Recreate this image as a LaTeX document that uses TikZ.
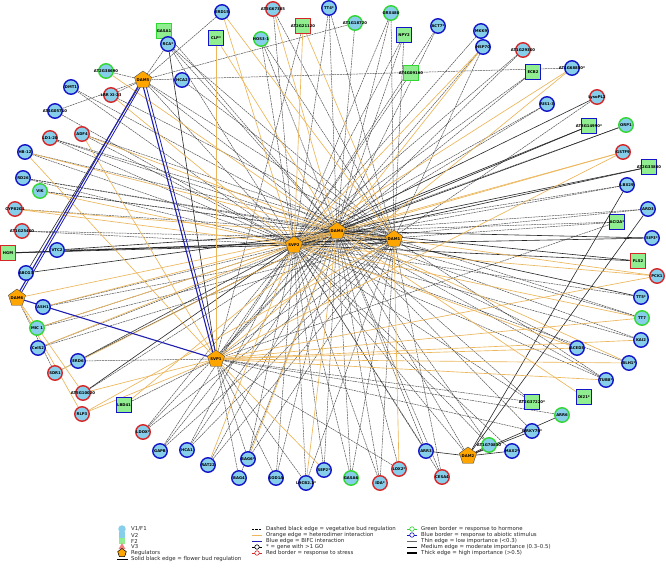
\documentclass[tikz,border=0pt]{standalone}
\usepackage{fontspec}
\setmainfont{DejaVu Sans}
\usetikzlibrary{shapes.geometric}
\pgfdeclarelayer{background}
\pgfsetlayers{background,main}

\definecolor{skyc}{RGB}{135,206,235}
\definecolor{sqgreen}{RGB}{144,238,144}
\definecolor{regorange}{RGB}{255,165,0}
\definecolor{redb}{RGB}{214,39,40}
\definecolor{greenb}{RGB}{50,215,50}
\definecolor{blueb}{RGB}{20,20,200}
\definecolor{orangeedge}{RGB}{236,182,90}
\definecolor{bifc}{RGB}{30,30,175}
\definecolor{tricol}{RGB}{240,128,128}

\newcommand\nodetext[1]{\makebox[0pt]{#1}}

\tikzset{
  x=1pt, y=-1pt,
  lab/.style={font=\fontsize{3.8}{4}\selectfont\bfseries, text=black},
  gene/.style={circle, minimum size=14.5pt, inner sep=0pt, fill=skyc, line width=1.4pt, lab},
  sqr/.style={rectangle, minimum size=15pt, inner sep=0pt, fill=sqgreen, line width=1.4pt, lab},
  gB/.style={gene, draw=blueb}, gR/.style={gene, draw=redb}, gG/.style={gene, draw=greenb},
  sB/.style={sqr, draw=blueb}, sR/.style={sqr, draw=redb}, sG/.style={sqr, draw=greenb},
  reg/.style={regular polygon, regular polygon sides=5, minimum size=18pt, inner sep=0pt,
    fill=regorange, draw=black!70, line width=0.4pt, lab},
  dsh/.style={draw=black!80, line width=0.5pt, dash pattern=on 2pt off 0.7pt, opacity=0.85},
  sld/.style={draw=black!85, line width=0.6pt},
  org/.style={draw=orangeedge, line width=0.65pt},
  bfc/.style={draw=bifc, line width=1.1pt},
  leg/.style={font=\fontsize{5.4}{6}\selectfont, text=black!85, anchor=west, inner sep=0pt},
  mk/.style={circle, fill=white, minimum size=4.5pt, inner sep=0pt, line width=0.6pt},
}

\begin{document}
\begin{tikzpicture}
\useasboundingbox (0,0) rectangle (666,573);

% regulators
\foreach \nm/\x/\y/\lb in {dam5/143/80/DAM5, svp2/294/245/SVP2, dam4/337/231/DAM4,
  dam1/394/239/DAM1, dam6/17/298/DAM6, svp1/216/359/SVP1, dam2/468/456/DAM2}
  \node[reg] (\nm) at (\x,\y) {\nodetext{\lb}};

% target genes
\foreach \nm/\x/\y/\s/\lb in {
  erd15/222/12/gB/ERD15, gasa1/164/31/sG/GASA1, rca/168/44/gB/RCA*, clp/216/38/sB/CLP*,
  at2g38690/106/71/gG/AT2G38690, hca2/182/80/gB/HCA2, dmt1/71/87/gB/DMT1,
  lrr/111/95/gR/LRR XI-23, at4g05710/55/111/gB/AT4G05710, adf4/82/134/gR/ADF4,
  ld120/50/138/gR/LD1-20, hb12/25/152/gB/HB-12, rd26/23/178/gB/RD26, vik/40/191/gG/VIK,
  cyp/15/209/gR/CYP82G1, at1g25400/22/231/gR/AT1G25400, hgm/8/253/sR/HGM,
  vtc2/57/250/gB/VTC2, abcg3/26/273/gB/ABCG3, ash1/43/307/gB/ASH1, mic1/37/328/gG/MIC 1,
  cels2/38/348/gB/CelS2, erd6/78/361/gB/ERD6, sdr1/55/373/gR/SDR1,
  at5g10020/83/393/gR/AT5G10020, rlp3/82/414/gR/RLP3, lbd41/124/405/sB/LBD41,
  ldox/143/432/gR/LDOX*, gapb/160/451/gB/GAPB, hca1/187/450/gB/HCA1, rat22/208/465/gB/RAT22,
  bag6/248/459/gB/BAG6*, bag4/239/478/gB/BAG4, sod1a/276/478/gB/SOD1A,
  lhcb/306/483/gB/LHCB2.1*, sep2/324/470/gB/SEP2*, gasa6/351/478/gG/GASA6,
  ida/380/483/gR/IDA*, lox2/399/469/gR/LOX2*, arr3/426/451/gB/ARR3, cesa4/442/477/gR/CESA4,
  at1g70810/489/445/gG/AT1G70810, max2/512/451/gB/MAX2*, wrky75/532/431/gB/WRKY75*,
  arr6/562/415/gG/ARR6, at2g37220/532/402/sB/AT2G37220*, di21/584/397/sB/DI21*,
  tub8/606/380/gB/TUB8*, blh1/629/363/gB/BLH1*, aced3/577/348/gB/ACED3, kai2/641/340/gB/KAI2,
  tt7/642/318/gG/TT7, tt5/641/297/gB/TT5*, pck1/657/276/gR/PCK1, fls2/638/261/sR/FLS2,
  sip3/652/238/gB/SIP3*, aci2a/617/222/sB/ACI2A*, ard3/648/209/gB/ARD3,
  lbx29/627/185/gB/LBX29, at2g33880/649/167/sB/AT2G33880, gstf9/623/152/gR/GSTF9,
  orp1/626/125/gG/ORP1, at3g14990/589/126/sB/AT3G14990*, lysopl2/597/97/gR/LysoPL2,
  ris13/547/104/gB/RIS1-3, at1g68850/572/68/gB/AT1G68850*, ecb2/533/72/sB/ECB2,
  at1g29300/523/50/gR/AT1G29300, mkk9/481/31/gB/MKK9, hsp70/483/47/gB/HSP70,
  act7/438/26/gB/ACT7*, npy2/404/35/sB/NPY2, at4g09160/411/73/sG/AT4G09160,
  grx480/391/13/gG/GRX480, at1g18720/355/23/gG/AT1G18720, tt4/329/8/gB/TT4*,
  at2g21120/303/26/sR/AT2G21120, at5g67385/273/9/gR/AT5G67385, hos31/261/39/gG/HOS3-1}
  \node[\s] (\nm) at (\x,\y) {\nodetext{\lb}};

\begin{pgfonlayer}{background}
\fill[white] (0,0) rectangle (666,573);

% vegetative bud regulation
\foreach \a/\b in {at2g38690/dam5, erd15/dam5, gasa1/dam4, rca/dam5, rca/dam4, rca/dam1,
  rca/svp2, hca2/dam1, hos31/dam4, hos31/svp2, hos31/dam1, at5g67385/svp2, at5g67385/dam1,
  at2g21120/svp1, tt4/svp2, tt4/dam1, tt4/dam4, at1g18720/dam5, at1g18720/dam4,
  grx480/svp2, grx480/dam4, grx480/dam1, npy2/svp2, npy2/dam4, npy2/dam1, act7/dam4,
  act7/svp2, at4g09160/svp2, mkk9/svp2, hsp70/svp1, hsp70/dam1, at1g29300/dam4,
  at1g29300/svp2, ecb2/dam4, ecb2/svp2, ris13/svp2, ris13/dam4, lysopl2/svp1, lbx29/dam4,
  lbx29/svp2, ard3/svp2, ard3/dam4, aci2a/dam4, aci2a/svp2, aci2a/svp1, orp1/svp2,
  tt5/svp2, tt7/dam4, tt7/dam1, kai2/svp2, kai2/dam4, aced3/dam4, blh1/svp2, tub8/svp2,
  tub8/dam4, tub8/dam1, at2g37220/svp2, at2g37220/dam4, at2g37220/svp1, arr6/svp1,
  wrky75/svp1, wrky75/dam4, at1g70810/svp2, at1g70810/dam4, max2/svp2, cesa4/dam1,
  cesa4/dam4, cesa4/svp2, arr3/dam4, arr3/svp2, lox2/svp1, lox2/dam4, ida/svp2, ida/dam4,
  ida/dam1, gasa6/svp2, gasa6/dam4, gasa6/dam1, sep2/svp2, sep2/dam4, lhcb/svp1,
  lhcb/svp2, lhcb/dam1, sod1a/svp2, sod1a/svp1, sod1a/dam4, bag4/svp1, bag4/dam4,
  bag6/svp1, bag6/svp2, bag6/dam1, rat22/dam4, rat22/dam1, hca1/svp2, hca1/dam1,
  hca1/dam4, gapb/svp2, gapb/dam4, gapb/dam1, ldox/svp2, ldox/dam4, ldox/dam1,
  lbd41/svp1, sdr1/dam6, sdr1/svp2, erd6/svp1, erd6/svp2, at5g10020/dam4, cels2/dam4,
  cels2/dam1, mic1/svp2, mic1/dam1, ash1/svp2, ash1/dam1, vtc2/svp2, at1g25400/dam1,
  at1g25400/svp2, cyp/dam4, vik/dam4, vik/dam1, rd26/svp2, rd26/dam4, rd26/dam1,
  hb12/svp2, hb12/dam1, ld120/svp2, ld120/dam4, ld120/dam1, adf4/svp2, adf4/dam1,
  at4g05710/dam5, at4g05710/svp2, lrr/dam5, lrr/dam1, dmt1/svp2, dmt1/dam4, svp2/svp1,
  dam4/svp1, dam2/dam4, dam2/svp2, dam5/svp2, dam5/dam4, dam5/dam1, dam5/at1g68850}
  \draw[dsh] (\a) -- (\b);

% flower bud regulation
\foreach \a/\b in {rca/svp1, lysopl2/svp2, at3g14990/svp2, at3g14990/dam4, orp1/dam4,
  at2g33880/svp2, at2g33880/dam4, lbx29/dam2, ard3/dam2, sip3/svp2, sip3/dam4, fls2/svp2,
  fls2/dam4, tt5/dam4, arr6/dam2, wrky75/dam2, max2/dam2, at1g70810/dam2, arr3/dam2,
  at5g10020/svp2, erd6/dam4, abcg3/dam5, abcg3/dam4, vtc2/dam4, hgm/svp2, svp2/dam4,
  dam4/dam1}
  \draw[sld] (\a) -- (\b);
\draw[sld, line width=1pt] (hgm) -- (dam1);

% heterodimer interactions
\foreach \a/\b in {at2g38690/dam4, erd15/dam1, erd15/svp2, clp/svp1, clp/dam4,
  at5g67385/dam4, at2g21120/svp2, at2g21120/dam1, hsp70/svp2, hsp70/dam4, at1g68850/svp2,
  at1g68850/svp1, gstf9/svp1, gstf9/svp2, gstf9/dam4, pck1/svp1, pck1/svp2, pck1/dam4,
  tt7/svp1, tt7/svp2, kai2/svp1, aced3/svp1, aced3/svp2, blh1/svp1, blh1/dam4, tub8/svp1,
  di21/dam4, lox2/dam1, sep2/svp1, lhcb/dam4, bag6/dam4, rat22/svp2, lbd41/dam4,
  rlp3/svp1, rlp3/dam6, rlp3/dam1, at5g10020/svp1, at5g10020/dam6, sdr1/dam4, cels2/svp2,
  mic1/dam4, ash1/dam4, cyp/svp2, cyp/dam1, vik/svp2, hb12/dam4, hb12/svp1, adf4/dam4,
  adf4/svp1, lrr/svp2, dam6/dam4}
  \draw[org] (\a) -- (\b);

% BiFC interactions
\draw[bfc] ([xshift=-1.3pt]dam5.center) -- ([xshift=-1.3pt]dam6.center);
\draw[bfc, line width=0.8pt] ([xshift=1.3pt]dam5.center) -- ([xshift=1.3pt]dam6.center);
\draw[bfc] ([xshift=-1.5pt]dam5.center) -- ([xshift=-1.5pt]svp1.center);
\draw[bfc, line width=0.8pt] ([xshift=1.5pt]dam5.center) -- ([xshift=1.5pt]svp1.center);
\draw[bfc] (dam6.center) -- (svp1.center);
\end{pgfonlayer}

% legend: node classes
\node[circle, fill=skyc, minimum size=7.5pt, inner sep=0pt] (kv1) at (122,529) {};
\node[rectangle, fill=skyc, minimum size=6.5pt, inner sep=0pt] (kv2) at (122,535) {};
\node[rectangle, fill=sqgreen, minimum size=6.5pt, inner sep=0pt] (kf2) at (122,541) {};
\node[isosceles triangle, isosceles triangle apex angle=60, shape border rotate=90,
  fill=tricol, minimum size=6pt, inner sep=0pt] (kv3) at (122,547) {};
\node[regular polygon, regular polygon sides=5, fill=regorange, draw=black, line width=0.5pt,
  minimum size=9pt, inner sep=0pt] (kreg) at (122,553) {};
\coordinate (ks1) at (117,559); \coordinate (ks2) at (128,559);
\draw[black, line width=0.8pt] (ks1) -- (ks2);
\node[leg] (tv1) at (131,529) {V1/F1};
\node[leg] (tv2) at (131,535) {V2};
\node[leg] (tf2) at (131,541) {F2};
\node[leg] (tv3) at (131,547) {V3};
\node[leg] (treg) at (131,553) {Regulators};
\node[leg] (tsl) at (131,559) {Solid black edge = flower bud regulation};

% legend: edge styles and borders
\coordinate (m1a) at (252,529); \coordinate (m1b) at (262,529);
\coordinate (m2a) at (252,535); \coordinate (m2b) at (262,535);
\coordinate (m3a) at (252,541); \coordinate (m3b) at (262,541);
\coordinate (m4a) at (252,547); \coordinate (m4b) at (262,547);
\coordinate (m5a) at (252,553); \coordinate (m5b) at (262,553);
\draw[black, line width=0.8pt, dash pattern=on 2.2pt off 1.2pt] (m1a) -- (m1b);
\draw[orangeedge, line width=0.9pt] (m2a) -- (m2b);
\draw[bifc, line width=1pt] (m3a) -- (m3b);
\draw[black, line width=0.5pt] (m4a) -- (m4b);
\node[mk, draw=black] (mk4) at (257,547) {};
\draw[redb, line width=0.5pt] (m5a) -- (m5b);
\node[mk, draw=redb] (mk5) at (257,553) {};
\node[leg] (tm1) at (266,529) {Dashed black edge = vegetative bud regulation};
\node[leg] (tm2) at (266,535) {Orange edge = heterodimer interaction};
\node[leg] (tm3) at (266,541) {Blue edge = BIFC interaction};
\node[leg] (tm4) at (266,547) {* = gene with >1 GO};
\node[leg] (tm5) at (266,553) {Red border = response to stress};

\coordinate (r1a) at (407,529); \coordinate (r1b) at (417,529);
\coordinate (r2a) at (407,535); \coordinate (r2b) at (417,535);
\coordinate (r3a) at (407,541); \coordinate (r3b) at (417,541);
\coordinate (r4a) at (407,547); \coordinate (r4b) at (417,547);
\coordinate (r5a) at (407,553); \coordinate (r5b) at (417,553);
\draw[greenb, line width=0.5pt] (r1a) -- (r1b);
\node[mk, draw=greenb] (mr1) at (412,529) {};
\draw[blueb, line width=0.5pt] (r2a) -- (r2b);
\node[mk, draw=blueb] (mr2) at (412,535) {};
\draw[black!60, line width=0.4pt] (r3a) -- (r3b);
\draw[black, line width=0.9pt] (r4a) -- (r4b);
\draw[black, line width=1.5pt] (r5a) -- (r5b);
\node[leg] (tr1) at (421,529) {Green border = response to hormone};
\node[leg] (tr2) at (421,535) {Blue border = response to abiotic stimulus};
\node[leg] (tr3) at (421,541) {Thin edge = low importance (<0.3)};
\node[leg] (tr4) at (421,547) {Medium edge = moderate importance (0.3--0.5)};
\node[leg] (tr5) at (421,553) {Thick edge = high importance (>0.5)};
\end{tikzpicture}
\end{document}
